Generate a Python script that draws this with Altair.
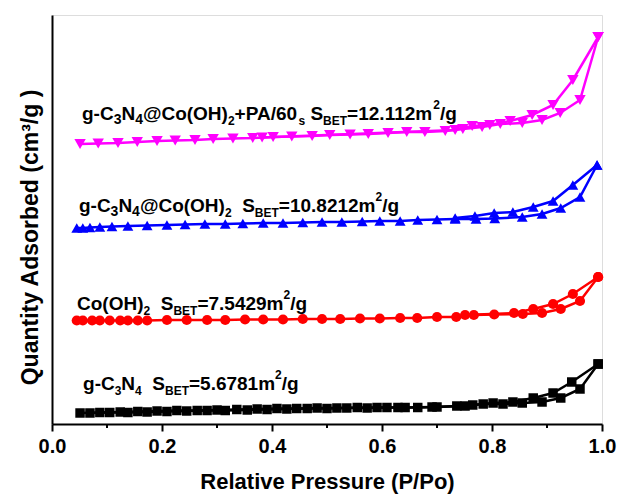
import altair as alt
import pandas as pd

# ---------------- data (y in arbitrary units) ----------------
series_names = ["g-C3N4", "Co(OH)2", "g-C3N4@Co(OH)2", "g-C3N4@Co(OH)2+PA/60s"]
series_colors = ["#000000", "#FF0000", "#0000FF", "#FF00FF"]
series_shapes = ["square", "circle", "triangle-up", "triangle-down"]
series_sizes = [90, 130, 150, 150]

# g-C3N4 (black squares)
gcn_ads_x = [0.051, 0.087, 0.124, 0.156, 0.191, 0.227, 0.264, 0.300, 0.336, 0.373, 0.409, 0.445,
             0.482, 0.518, 0.555, 0.591, 0.629, 0.665, 0.700, 0.751, 0.784, 0.820, 0.855, 0.891,
             0.925, 0.960, 0.993]
gcn_ads_y = [11, 11.5, 12, 12.5, 13, 13.5, 13.5, 14, 14.5, 15, 15.5, 15.5, 16, 16, 16.5, 16.5,
             16.5, 16.5, 17, 18, 20, 20, 21, 22, 26, 35, 60]
gcn_des_x = [0.993, 0.945, 0.911, 0.875, 0.838, 0.802, 0.765, 0.736, 0.691, 0.642, 0.609, 0.573,
             0.536, 0.500, 0.464, 0.427, 0.391, 0.355, 0.315, 0.282, 0.245, 0.209, 0.173, 0.138,
             0.105, 0.069]
gcn_des_y = [60, 42, 31, 26, 22, 21, 19, 18, 17, 16.5, 16.5, 16, 16, 15.5, 15.5, 15, 14.5, 14,
             13.5, 13.5, 13, 12.5, 12, 11.5, 11.5, 11]

# Co(OH)2 (red circles)
coh_ads_x = [0.045, 0.056, 0.073, 0.087, 0.105, 0.124, 0.138, 0.156, 0.173, 0.209, 0.245, 0.282,
             0.315, 0.351, 0.384, 0.420, 0.456, 0.491, 0.524, 0.560, 0.596, 0.633, 0.664, 0.700,
             0.735, 0.767, 0.804, 0.856, 0.891, 0.925, 0.960, 0.993]
coh_ads_y = [103.5, 103.5, 103.5, 103.5, 103.5, 103.5, 103.5, 103.5, 103.5, 104, 104, 104, 104,
             104.5, 104.5, 104.5, 105, 105, 105, 105.5, 105.5, 106, 106, 107, 107, 109, 109.5,
             110, 111, 115, 123, 147]
coh_des_x = [0.993, 0.947, 0.911, 0.875, 0.840, 0.751]
coh_des_y = [147, 130, 120, 115, 111, 109]

# g-C3N4@Co(OH)2 (blue up-triangles)
gco_ads_x = [0.045, 0.056, 0.069, 0.087, 0.109, 0.138, 0.173, 0.209, 0.242, 0.278, 0.315, 0.347,
             0.384, 0.420, 0.456, 0.491, 0.527, 0.564, 0.596, 0.633, 0.665, 0.700, 0.733, 0.771,
             0.805, 0.855, 0.891, 0.925, 0.960, 0.991]
gco_ads_y = [196, 196, 196.5, 197, 197.5, 198, 198.5, 199, 199.5, 200, 200, 200.5, 201, 201,
             201.5, 202, 202, 202.5, 203, 203, 204, 204.5, 205, 205, 205.5, 207, 210, 216, 227, 259]
gco_des_x = [0.991, 0.947, 0.911, 0.875, 0.838, 0.804, 0.769, 0.733]
gco_des_y = [259, 239, 223, 217, 212, 211, 208, 206]

# g-C3N4@Co(OH)2+PA/60s (magenta down-triangles)
gpa_ads_x = [0.051, 0.084, 0.120, 0.155, 0.191, 0.224, 0.260, 0.293, 0.329, 0.365, 0.402, 0.436,
             0.473, 0.505, 0.542, 0.575, 0.611, 0.645, 0.678, 0.715, 0.747, 0.782, 0.815, 0.855,
             0.891, 0.924, 0.960, 0.993]
gpa_ads_y = [280, 280.5, 281, 282, 283, 283.5, 284, 285, 285.5, 286, 287, 287.5, 288, 289, 289.5,
             290, 291, 292, 292, 293, 295, 297, 300, 301, 304, 311, 324, 387]
gpa_des_x = [0.993, 0.947, 0.911, 0.873, 0.833, 0.796, 0.764, 0.733, 0.382]
gpa_des_y = [387, 344, 319, 309, 303, 299, 298, 294, 286.5]

major_ticks = [0.0, 0.2, 0.4, 0.6, 0.8, 1.0]
minor_ticks = [0.1, 0.3, 0.5, 0.7, 0.9]

# annotation texts: (segment, style)  n=normal, s=subscript, t=small subscript, p=superscript
label_segments = [
    [("g-C", "n"), ("3", "s"), ("N", "n"), ("4", "s"), ("@Co(OH)", "n"), ("2", "t"),
     ("+PA/60", "n"), ("s", "t"), (" S", "n"), ("BET", "t"), ("=12.112m", "n"), ("2", "p"), ("/g", "n")],
    [("g-C", "n"), ("3", "s"), ("N", "n"), ("4", "s"), ("@Co(OH)", "n"), ("2", "t"),
     ("  S", "n"), ("BET", "t"), ("=10.8212m", "n"), ("2", "p"), ("/g", "n")],
    [("Co(OH)", "n"), ("2", "t"), ("  S", "n"), ("BET", "t"), ("=7.5429m", "n"), ("2", "p"), ("/g", "n")],
    [("g-C", "n"), ("3", "t"), ("N", "n"), ("4", "t"), ("  S", "n"), ("BET", "t"),
     ("=5.6781m", "n"), ("2", "p"), ("/g", "n")],
]
label_x0 = [0.0545, 0.049, 0.0455, 0.0564]
label_y0 = [304, 212, 114, 34]

# ---------------- build tables ----------------
PLOT_W, PLOT_H = 550, 409
branches = [
    ("g-C3N4", "ads", gcn_ads_x, gcn_ads_y), ("g-C3N4", "des", gcn_des_x, gcn_des_y),
    ("Co(OH)2", "ads", coh_ads_x, coh_ads_y), ("Co(OH)2", "des", coh_des_x, coh_des_y),
    ("g-C3N4@Co(OH)2", "ads", gco_ads_x, gco_ads_y), ("g-C3N4@Co(OH)2", "des", gco_des_x, gco_des_y),
    ("g-C3N4@Co(OH)2+PA/60s", "ads", gpa_ads_x, gpa_ads_y),
    ("g-C3N4@Co(OH)2+PA/60s", "des", gpa_des_x, gpa_des_y),
]
rows = []
for s, b, xs, ys in branches:
    for i, (xv, yv) in enumerate(zip(xs, ys)):
        rows.append({"series": s, "branch": s + "|" + b, "idx": i, "p": xv, "q": yv})
df = pd.DataFrame(rows)

# Arial/Liberation Sans Bold advance widths (per 1000 em)
W = {" ": 278, "(": 333, ")": 333, "+": 584, "-": 333, ".": 278, "/": 278, "=": 584, "@": 975,
     "A": 722, "B": 722, "C": 722, "E": 667, "H": 722, "N": 722, "O": 778, "P": 667, "S": 667,
     "T": 611, "g": 611, "m": 889, "o": 611, "s": 556}
styles = {"n": (19, 0), "s": (14, -4), "t": (12, -5), "p": (12, 11)}


def tw(t, size):
    return sum(W.get(c, 556) for c in t) * size / 1000.0


trows = []
for segs, x0, y0 in zip(label_segments, label_x0, label_y0):
    cur = 0.0
    for text, st in segs:
        size, shift = styles[st]
        lead = len(text) - len(text.lstrip(" "))
        cur += tw(" " * lead, size)
        body = text.lstrip(" ")
        trows.append({"t": body, "x": x0 + cur / PLOT_W, "y": y0 + shift, "fs": size})
        cur += tw(body, size)
tdf = pd.DataFrame(trows)

FONT = "Liberation Sans"
xscale = alt.Scale(domain=[0, 1], nice=False, zero=False)
yscale = alt.Scale(domain=[0, PLOT_H], nice=False)

xaxis = alt.Axis(values=major_ticks, format=".1f", tickSize=7, tickWidth=2, tickColor="black",
                 domainColor="black", domainWidth=2, labelFontSize=20, labelFontWeight="bold",
                 labelFont=FONT, labelColor="black", labelPadding=5, labelFlush=False, grid=False,
                 title="Relative Pressure (P/Po)", titleFontSize=22, titleFontWeight="bold",
                 titleFont=FONT, titleColor="black", titleY=64, titleBaseline="alphabetic")
yaxis = alt.Axis(labels=False, ticks=False, grid=False, domainColor="black", domainWidth=2,
                 title="Quantity Adsorbed (cm³/g )", titleFontSize=23, titleFontWeight="bold",
                 titleFont=FONT, titleColor="black", titleX=-15, titleY=222, titleAngle=270,
                 titleAlign="center", titleBaseline="alphabetic")

color = alt.Color("series:N", scale=alt.Scale(domain=series_names, range=series_colors), legend=None)

lines = alt.Chart(df).mark_line(strokeWidth=2.5).encode(
    x=alt.X("p:Q", scale=xscale, axis=xaxis),
    y=alt.Y("q:Q", scale=yscale, axis=yaxis),
    color=color,
    detail="branch:N",
    order="idx:Q",
)

points = alt.Chart(df).mark_point(filled=True, opacity=1, strokeWidth=0).encode(
    x=alt.X("p:Q", scale=xscale),
    y=alt.Y("q:Q", scale=yscale),
    color=color,
    shape=alt.Shape("series:N", scale=alt.Scale(domain=series_names, range=series_shapes), legend=None),
    size=alt.Size("series:N", scale=alt.Scale(domain=series_names, range=series_sizes), legend=None),
)

labels = alt.Chart(tdf).mark_text(align="left", baseline="alphabetic", font=FONT,
                                  fontWeight="bold", color="black").encode(
    x=alt.X("x:Q", scale=xscale),
    y=alt.Y("y:Q", scale=yscale),
    text="t:N",
    size=alt.Size("fs:Q", scale=None),
)

minor = alt.Chart(pd.DataFrame({"m": minor_ticks})).mark_rule(color="black", strokeWidth=2).encode(
    x=alt.X("m:Q", scale=xscale),
    y=alt.value(PLOT_H),
    y2=alt.value(PLOT_H + 4),
)

chart = alt.layer(lines, points, labels, minor).properties(
    width=PLOT_W, height=PLOT_H,
    autosize=alt.AutoSizeParams(type="none"),
    padding={"left": 52, "top": 15, "right": 17, "bottom": 72},
    background="white",
).configure_view(stroke="black", strokeWidth=2).configure(font=FONT)

chart.save("out.html", embed_options={"renderer": "svg", "actions": False})
